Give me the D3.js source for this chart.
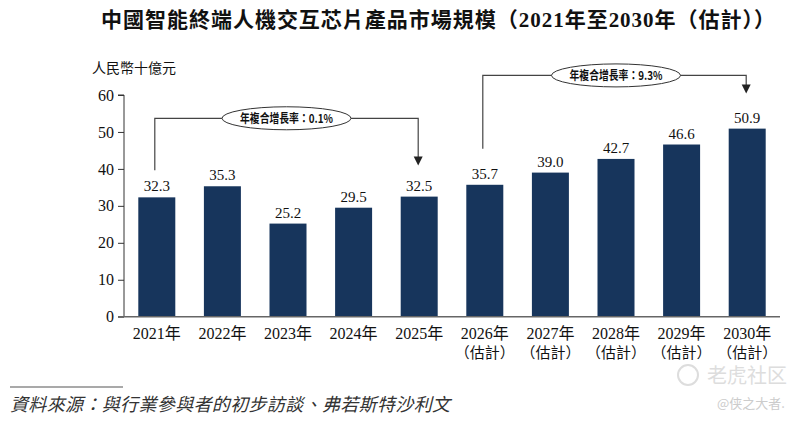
<!DOCTYPE html>
<html>
<head>
<meta charset="utf-8">
<script src="https://cdn.jsdelivr.net/npm/d3@7"></script>
<style>
  body { margin: 0; background: #fff; }
  svg { display: block; }
</style>
</head>
<body>
<div id="chart"></div>
<script>
// DATA
const years = ["2021年", "2022年", "2023年", "2024年", "2025年", "2026年", "2027年", "2028年", "2029年", "2030年"];
const subLabels = ["", "", "", "", "", "（估計）", "（估計）", "（估計）", "（估計）", "（估計）"];
const values = [32.3, 35.3, 25.2, 29.5, 32.5, 35.7, 39.0, 42.7, 46.6, 50.9];
const yTicks = [0, 10, 20, 30, 40, 50, 60];
const cagrFrom = [0, 5];
const cagrTo = [4, 9];
const cagrLabels = ["年複合增長率：0.1%", "年複合增長率：9.3%"];

const width = 804, height = 421;
const margin = { top: 95, right: 24, bottom: 104, left: 124 };
const serif = "'Liberation Serif', 'Noto Sans CJK TC', serif";
const cjk = "'Noto Sans CJK TC', 'Liberation Serif', sans-serif";

const svg = d3.select("#chart").append("svg")
    .attr("width", width)
    .attr("height", height)
    .attr("viewBox", [0, 0, width, height]);

// SCALES
const x = d3.scaleBand()
    .domain(years)
    .range([margin.left, width - margin.right])
    .paddingInner(0.436)
    .paddingOuter(0.218);

const y = d3.scaleLinear()
    .domain([0, 60])
    .range([height - margin.bottom - 0.3, margin.top]);

// Title (digits set in serif like the original)
const title = svg.append("text")
    .attr("x", 438)
    .attr("y", 27)
    .attr("text-anchor", "middle")
    .attr("font-family", cjk)
    .attr("font-size", 21)
    .attr("font-weight", "bold")
    .attr("fill", "#111")
    .attr("textLength", 674)
    .attr("lengthAdjust", "spacing");

["中國智能終端人機交互芯片產品市場規模（", "2021", "年至", "2030", "年（估計））"].forEach(s => {
    title.append("tspan")
        .attr("font-family", /\d/.test(s) ? serif : cjk)
        .text(s);
});

// Unit label
svg.append("text")
    .attr("x", 92)
    .attr("y", 73)
    .attr("font-family", cjk)
    .attr("font-size", 14)
    .attr("fill", "#111")
    .text("人民幣十億元");

// Y axis
svg.append("g")
    .attr("transform", `translate(${margin.left},0)`)
    .call(d3.axisLeft(y).tickValues(yTicks).tickSize(6).tickPadding(4))
    .call(g => g.selectAll("line, path").attr("stroke", "#333"))
    .call(g => g.select(".domain").attr("d", `M0,${y(0)}V${y(60)}H-6`))
    .selectAll("text")
    .attr("font-family", serif)
    .attr("font-size", 16)
    .attr("fill", "#111");

// Bars
svg.append("g")
    .selectAll("rect")
    .data(values)
    .join("rect")
    .attr("x", (d, i) => x(years[i]))
    .attr("y", d => y(d))
    .attr("width", x.bandwidth())
    .attr("height", d => y(0) - y(d))
    .attr("fill", "#17355c");

// X axis baseline
svg.append("line")
    .attr("x1", margin.left - 6)
    .attr("x2", width - margin.right)
    .attr("y1", y(0))
    .attr("y2", y(0))
    .attr("stroke", "#666")
    .attr("stroke-width", 1.5);

// Value labels
svg.append("g")
    .selectAll("text")
    .data(values)
    .join("text")
    .attr("x", (d, i) => x(years[i]) + x.bandwidth() / 2)
    .attr("y", d => y(d) - 6)
    .attr("text-anchor", "middle")
    .attr("font-family", serif)
    .attr("font-size", 15)
    .attr("fill", "#111")
    .text(d => d.toFixed(1));

// Category labels
const xl = svg.append("g")
    .selectAll("text")
    .data(years)
    .join("text")
    .attr("x", d => x(d) + x.bandwidth() / 2)
    .attr("y", 339)
    .attr("text-anchor", "middle")
    .attr("font-family", serif)
    .attr("font-size", 16)
    .attr("fill", "#111");

xl.append("tspan").text(d => d);
xl.append("tspan")
    .attr("x", d => x(d) + x.bandwidth() / 2)
    .attr("dy", 19)
    .attr("font-family", cjk)
    .attr("font-size", 15)
    .text((d, i) => subLabels[i]);

// CAGR annotations
const lineLevel = [53.7, 65.3];
const startGap = [27, 36];
const tipGap = [31, 35];

cagrLabels.forEach((label, k) => {
    const i0 = cagrFrom[k], i1 = cagrTo[k];
    const x0 = x(years[i0]) + x.bandwidth() / 2 - 2;
    const x1 = x(years[i1]) + x.bandwidth() / 2 - 1;
    const yl = y(lineLevel[k]);
    const yStart = y(values[i0]) - startGap[k];
    const yTip = y(values[i1]) - tipGap[k];

    const g = svg.append("g");
    g.append("path")
        .attr("d", `M${x0},${yStart}V${yl}H${x1}V${yTip - 8}`)
        .attr("fill", "none")
        .attr("stroke", "#444")
        .attr("stroke-width", 1.2);
    g.append("path")
        .attr("d", `M${x1 - 4.5},${yTip - 9}L${x1 + 4.5},${yTip - 9}L${x1},${yTip}Z`)
        .attr("fill", "#222");

    const cx = k === 0 ? 286.5 : 616;
    g.append("ellipse")
        .attr("cx", cx)
        .attr("cy", yl)
        .attr("rx", 64.5)
        .attr("ry", 11.5)
        .attr("fill", "#fff")
        .attr("stroke", "#333")
        .attr("stroke-width", 1);
    g.append("text")
        .attr("x", cx)
        .attr("y", yl + 4.5)
        .attr("text-anchor", "middle")
        .attr("font-family", cjk)
        .attr("font-size", 12)
        .attr("font-weight", "bold")
        .attr("textLength", 93)
        .attr("lengthAdjust", "spacingAndGlyphs")
        .attr("fill", "#111")
        .text(label);
});

// Source
svg.append("line")
    .attr("x1", 10).attr("x2", 123)
    .attr("y1", 387).attr("y2", 387)
    .attr("stroke", "#555")
    .attr("stroke-width", 1.2);

svg.append("text")
    .attr("x", 10)
    .attr("y", 411)
    .attr("font-family", cjk)
    .attr("font-size", 18)
    .attr("font-style", "italic")
    .attr("fill", "#333")
    .attr("textLength", 440)
    .attr("lengthAdjust", "spacing")
    .text("資料來源：與行業參與者的初步訪談、弗若斯特沙利文");

// Watermark
svg.append("circle")
    .attr("cx", 688).attr("cy", 375).attr("r", 10)
    .attr("fill", "none").attr("stroke", "#ddd").attr("stroke-width", 2);
svg.append("text")
    .attr("x", 707).attr("y", 383)
    .attr("font-family", cjk)
    .attr("font-size", 20)
    .attr("fill", "#ddd")
    .text("老虎社区");
svg.append("text")
    .attr("x", 717).attr("y", 408)
    .attr("font-family", cjk)
    .attr("font-size", 13)
    .attr("fill", "#ccc")
    .text("@侠之大者.");
</script>
</body>
</html>
